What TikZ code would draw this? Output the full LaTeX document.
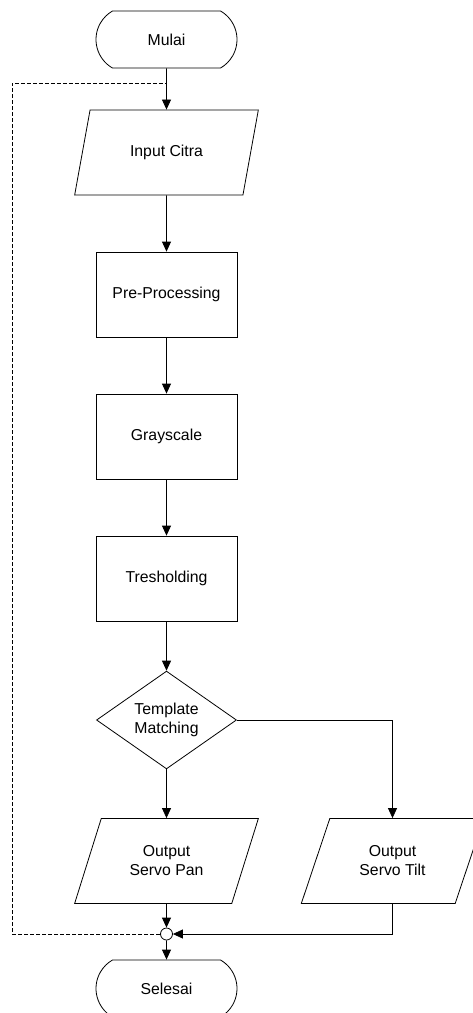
\documentclass[tikz,border=0pt]{standalone}
\usepackage{fontspec}
\setmainfont{Liberation Sans}
\usepackage{tikz}
\usetikzlibrary{shapes,shapes.geometric,shapes.misc,arrows.meta,positioning,calc}

\tikzset{
    startstop/.style={draw, rounded rectangle, rounded rectangle arc length=120, minimum width=141pt, minimum height=57pt, inner sep=0pt},
    process/.style={draw, rectangle, minimum width=141pt, minimum height=85pt, inner sep=0pt},
    io/.style={draw, trapezium, trapezium left angle=63.5, trapezium right angle=116.5, trapezium stretches=true, minimum width=184pt, minimum height=85pt, inner sep=0pt, align=center},
    decision/.style={draw, diamond, minimum width=140pt, minimum height=84pt, inner sep=0pt, align=center},
    flow/.style={-{Triangle[length=10pt,width=9pt]}}
}

\begin{document}
\begin{tikzpicture}[x=1pt, y=-1pt, line width=0.8pt, font=\fontsize{15.8}{19}\selectfont]
        \useasboundingbox (0,0) rectangle (472,1013);
        \node[startstop] (mulai) at (166.5,39.5) {Mulai};
        \node[io] (input) at (166.5,152.5) {Input Citra};
        \node[process] (pre) at (166.5,294.5) {Pre-Processing};
        \node[process] (gray) at (166.5,436.5) {Grayscale};
        \node[process] (tresh) at (166.5,578.5) {Tresholding};
        \node[decision] (match) at (166.5,720) {Template\\Matching};
        \node[io] (pan) at (166.5,861) {Output\\Servo Pan};
        \node[io] (tilt) at (392.5,861) {Output\\Servo Tilt};
        \node[circle, draw, minimum size=12pt, inner sep=0pt] (merge) at (166.5,934) {};
        \node[startstop] (selesai) at (166.5,988.5) {Selesai};
        \coordinate (back) at (12,83);
        \coordinate (join) at (166.5,83);
        \draw[flow] (mulai) -- (input);
        \draw[flow] (input) -- (pre);
        \draw[flow] (pre) -- (gray);
        \draw[flow] (gray) -- (tresh);
        \draw[flow] (tresh) -- (match);
        \draw[flow] (match) -- (pan);
        \draw[flow] (match.east) -| (tilt.north);
        \draw[flow] (pan) -- (merge);
        \draw[flow] (tilt.south) |- (merge.east);
        \draw[flow] (merge) -- (selesai);
        \draw[dashed, dash pattern=on 4pt off 2pt] (merge.west) -| (back) -- (join);
    \end{tikzpicture}
\end{document}
